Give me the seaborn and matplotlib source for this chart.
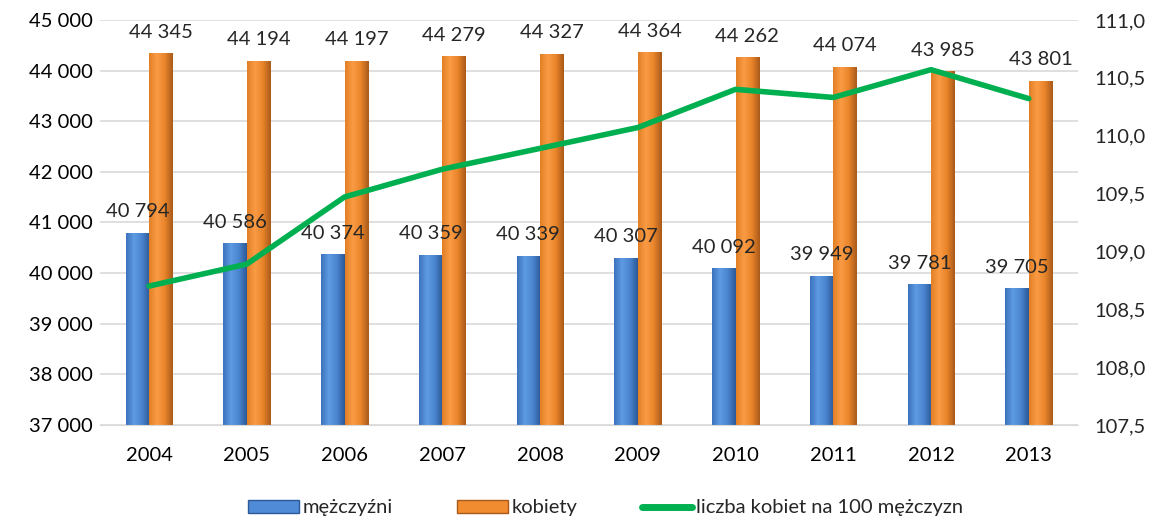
import matplotlib
matplotlib.use("Agg")
import matplotlib.pyplot as plt
import matplotlib.ticker as mticker
import numpy as np
import pandas as pd
import seaborn as sns
from matplotlib.colors import LinearSegmentedColormap
from matplotlib.lines import Line2D
from matplotlib.patches import Patch

sns.set_style("white")
plt.rcParams["font.family"] = ["Lato", "DejaVu Sans"]

years = ["2004", "2005", "2006", "2007", "2008", "2009", "2010", "2011", "2012", "2013"]
men = [40794, 40586, 40374, 40359, 40339, 40307, 40092, 39949, 39781, 39705]
women = [44345, 44194, 44197, 44279, 44327, 44364, 44262, 44074, 43985, 43801]
ratio = [108.70, 108.89, 109.47, 109.71, 109.89, 110.07, 110.40, 110.33, 110.57, 110.32]

series_names = ["mężczyźni", "kobiety"]
line_name = "liczba kobiet na 100 mężczyzn"

BLUE = "#4F8BD6"
ORANGE = "#F28C30"
GREEN = "#00B050"
FS = 14.5

df = pd.DataFrame({
    "rok": years * 2,
    "grupa": [series_names[0]] * len(years) + [series_names[1]] * len(years),
    "liczba": men + women,
})

fig, ax = plt.subplots(figsize=(11.65, 5.24), dpi=100)
fig.subplots_adjust(left=0.086, right=0.925, top=0.962, bottom=0.189)

sns.barplot(data=df, x="rok", y="liczba", hue="grupa", palette=[BLUE, ORANGE],
            width=0.48, ax=ax, legend=False, saturation=1)

ax.set_ylim(37000, 45000)
ax.yaxis.set_major_locator(mticker.MultipleLocator(1000))
ax.yaxis.set_major_formatter(mticker.FuncFormatter(lambda v, _: f"{int(v):,}".replace(",", " ")))
ax.grid(axis="y", color="#D9D9D9", linewidth=1.2)
ax.set_axisbelow(True)
ax.set_xlim(-0.5, len(years) - 0.5)
ax.set_xlabel("")
ax.set_ylabel("")
for s in ["left", "right", "top"]:
    ax.spines[s].set_visible(False)
ax.spines["bottom"].set_color("#D9D9D9")
ax.tick_params(axis="both", labelsize=FS, length=0, colors="#000000")
ax.tick_params(axis="x", pad=16)
ax.tick_params(axis="y", pad=5)

# gradient shading on bars
cmaps = {
    BLUE: LinearSegmentedColormap.from_list("b", ["#3D73BE", "#5E9BE2", "#4A84CF", "#2C5A98"]),
    ORANGE: LinearSegmentedColormap.from_list("o", ["#E27F25", "#FA9C45", "#E9842A", "#A95A1A"]),
}
grad = np.linspace(0, 1, 64).reshape(1, -1)
for i, cont in enumerate(ax.containers):
    cmap = cmaps[BLUE] if i == 0 else cmaps[ORANGE]
    for bar in cont:
        x0, y0 = bar.get_x(), bar.get_y()
        w, h = bar.get_width(), bar.get_height()
        im = ax.imshow(grad, extent=[x0, x0 + w, 37000, y0 + h], aspect="auto",
                       cmap=cmap, zorder=2)
        im.set_clip_path(bar)
        bar.set_edgecolor("none")
    labels = [f"{v:,}".replace(",", " ") for v in (men if i == 0 else women)]
    ax.bar_label(cont, labels=labels, padding=9, fontsize=FS)
ax.set_ylim(37000, 45000)
ax.set_xlim(-0.5, len(years) - 0.5)

ax2 = ax.twinx()
sns.lineplot(x=np.arange(len(years)), y=ratio, color=GREEN, linewidth=4, ax=ax2,
             solid_capstyle="round")
ax2.set_ylim(107.5, 111.0)
ax2.yaxis.set_major_locator(mticker.MultipleLocator(0.5))
ax2.yaxis.set_major_formatter(mticker.FuncFormatter(lambda v, _: f"{v:.1f}".replace(".", ",")))
ax2.tick_params(axis="y", labelsize=FS, length=0, pad=12)
for s in ["left", "right", "top", "bottom"]:
    ax2.spines[s].set_visible(False)

handles = [
    Patch(facecolor=BLUE, edgecolor="#2C5A98", label=series_names[0]),
    Patch(facecolor=ORANGE, edgecolor="#A95A1A", label=series_names[1]),
    Line2D([0], [0], color=GREEN, linewidth=5, solid_capstyle="round", label=line_name),
]
fig.legend(handles=handles, loc="lower center", bbox_to_anchor=(0.52, -0.02), ncol=3,
           frameon=False, fontsize=FS, handlelength=2.5, handleheight=0.6,
           columnspacing=3.2, handletextpad=0.2)

fig.savefig("out.png", dpi=100)
